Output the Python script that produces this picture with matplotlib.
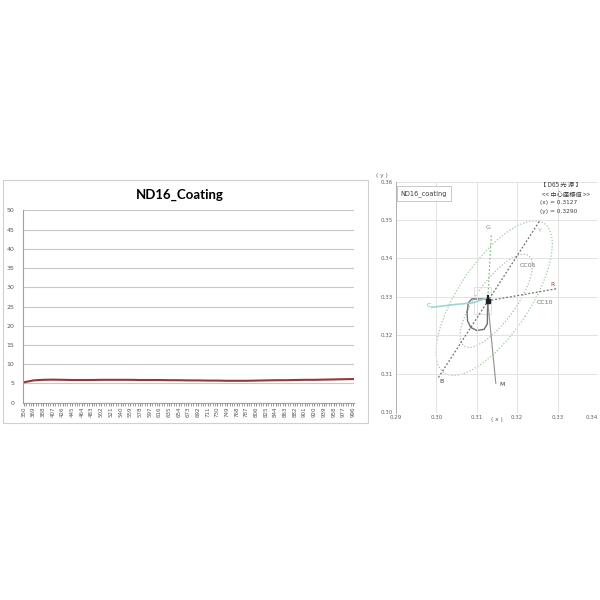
import numpy as np
import matplotlib
matplotlib.use("Agg")
import matplotlib.pyplot as plt
from matplotlib.patches import Ellipse, Rectangle, Polygon

plt.rcParams["font.family"] = ["DejaVu Sans"]

# ---- left chart: spectrum of the ND16 coating ----
wavelengths = list(range(350, 997, 19))  # nm, category labels
transmittance = [5.3, 5.8, 5.95, 6.0, 5.95, 5.9, 5.9, 5.9, 5.95, 5.95,
                 5.95, 5.95, 5.9, 5.9, 5.9, 5.85, 5.85, 5.8, 5.8, 5.75,
                 5.75, 5.7, 5.7, 5.7, 5.75, 5.8, 5.85, 5.85, 5.9, 5.95,
                 5.95, 6.0, 6.05, 6.1, 6.15]
y_ticks = list(range(0, 51, 5))

# ---- right chart: chromaticity diagram ----
d65 = (0.3127, 0.3290)
by_line_x = [0.3005, 0.3257]          # B end -> Y end, through D65
by_line_y = [0.3091, 0.3500]
r_end = (0.3300, 0.3322)
g_end = (0.3136, 0.3465)
m_end = (0.3147, 0.3076)
c_line_x = [0.2988, 0.3033, 0.3091, 0.3124]
c_line_y = [0.3273, 0.3279, 0.3285, 0.3297]
# tolerance ellipses: centre, semi axes, angle
cc10 = dict(xy=(0.3143, 0.3297), a=0.023, b=0.009, angle=58)
cc05 = dict(xy=(0.3148, 0.3290), a=0.0142, b=0.0050, angle=56)
# small measured loop near the centre
loop_x = [0.3127, 0.3088, 0.3079, 0.3076, 0.3077, 0.3085, 0.3100, 0.3118, 0.3126, 0.3127]
loop_y = [0.3295, 0.3295, 0.3285, 0.3260, 0.3238, 0.3221, 0.3213, 0.3216, 0.3230, 0.3295]
point_labels = ["G", "Y", "R", "CC05", "CC10", "C", "B", "M"]
label_x = [0.3128, 0.3256, 0.3288, 0.3227, 0.3268, 0.2980, 0.3013, 0.3163]
label_y = [0.3481, 0.3472, 0.3333, 0.3381, 0.3285, 0.3277, 0.3080, 0.3074]
label_colors = ["#6f8f6f", "#9fbf7f", "#a04040", "#707070", "#707070",
                "#6fb0b0", "#404040", "#404040"]
x_ticks = [0.29, 0.30, 0.31, 0.32, 0.33, 0.34]
y_ticks_r = [0.30, 0.31, 0.32, 0.33, 0.34, 0.35, 0.36]

fig = plt.figure(figsize=(6, 6), dpi=100)

# frame around the left chart
fig.patches.append(Rectangle((0.005, 0.295), 0.608, 0.405, transform=fig.transFigure,
                             fill=False, edgecolor="#d0d0d0", linewidth=0.8))

ax = fig.add_axes([0.038, 0.3288, 0.552, 0.3207])
idx = np.arange(len(wavelengths))
ax.plot(idx, transmittance, color="#953735", linewidth=1.5)
ax.set_xlim(-0.1, len(wavelengths) - 0.9)
ax.set_ylim(0, 50)
ax.set_yticks(y_ticks)
ax.set_xticks(idx)
ax.set_xticklabels([str(w) for w in wavelengths], rotation=90, fontsize=4, color="#595959")
ax.set_xticks(np.arange(0, len(wavelengths) - 1, 0.25), minor=True)
ax.tick_params(axis="y", labelsize=4.5, labelcolor="#595959", length=0, pad=6)
ax.tick_params(axis="x", which="both", length=2, color="#909090", pad=1)
ax.grid(axis="y", color="#c8c8c8", linewidth=0.8)
ax.set_axisbelow(True)
for s in ["top", "right"]:
    ax.spines[s].set_visible(False)
ax.spines["left"].set_color("#a0a0a0")
ax.spines["bottom"].set_color("#a0a0a0")
fig.text(0.30, 0.676, "ND16_Coating", ha="center", va="center",
         fontsize=9.5, fontweight="bold", family=["Lato", "DejaVu Sans"])

# right chart
bx = fig.add_axes([0.66, 0.3125, 0.3367, 0.385])
bx.set_xlim(0.29, 0.34)
bx.set_ylim(0.30, 0.36)
bx.set_xticks(x_ticks)
bx.set_yticks(y_ticks_r)
bx.set_xticklabels([f"{v:.2f}" for v in x_ticks])
bx.set_yticklabels([f"{v:.2f}" for v in y_ticks_r])
bx.tick_params(labelsize=4, labelcolor="#606060", length=0, pad=2)
bx.get_xticklabels()[-1].set_horizontalalignment("right")
bx.grid(color="#e2e2e2", linewidth=0.7)
for s in ["top", "right", "bottom"]:
    bx.spines[s].set_visible(False)
bx.spines["left"].set_color("#b0b0b0")
bx.spines["left"].set_linewidth(0.7)

for e, col in [(cc10, "#9ccc9c"), (cc05, "#a8c0a8")]:
    bx.add_patch(Ellipse(e["xy"], 2 * e["a"], 2 * e["b"], angle=e["angle"], fill=False,
                         edgecolor=col, linestyle=(0, (1, 1.5)), linewidth=0.9))
bx.add_patch(Rectangle((0.3093, 0.3255), 0.0042, 0.0070, fill=False,
                       edgecolor="#dddddd", linewidth=0.6))
bx.plot(by_line_x, by_line_y, color="#707070", linestyle=(0, (1.5, 1.5)), linewidth=0.9)
bx.plot([d65[0], r_end[0]], [d65[1], r_end[1]], color="#707070",
        linestyle=(0, (1.5, 1.5)), linewidth=0.9)
bx.plot([d65[0], g_end[0]], [d65[1], g_end[1]], color="#8fbf8f",
        linestyle=(0, (1.5, 1.5)), linewidth=0.9)
bx.plot([d65[0], m_end[0]], [d65[1], m_end[1]], color="#909090", linewidth=0.8)
bx.plot(c_line_x, c_line_y, color="#9fd4d4", linewidth=1.2)
bx.add_patch(Polygon(list(zip(loop_x, loop_y)), closed=True, fill=False,
                     edgecolor="#707070", linewidth=1.0))
bx.plot([d65[0]], [d65[1]], marker="s", markersize=2.5, color="#202020")
bx.plot([d65[0], d65[0]], [d65[1] - 0.0006, d65[1] + 0.0012], color="#202020", linewidth=1.6)

for t, x, y, c in zip(point_labels, label_x, label_y, label_colors):
    bx.text(x, y, t, fontsize=4.5, color=c, ha="center", va="center")

bx.text(0.2912, 0.3568, "ND16_coating", fontsize=4.8, color="#404040", va="center",
        bbox=dict(boxstyle="square,pad=0.6", facecolor="white", edgecolor="#c0c0c0",
                  linewidth=0.6))
cjk = ["Noto Sans CJK JP", "DejaVu Sans"]
bx.text(0.3257, 0.3590, "【 D65 光 源 】", fontsize=4.5, color="#404040",
        ha="left", va="center", family=cjk)
bx.text(0.3262, 0.3564, "<< 中心座標値 >>", fontsize=4.5, color="#404040",
        ha="left", va="center", family=cjk)
bx.text(0.3257, 0.3545, "(x) = 0.3127", fontsize=4.2, color="#404040", ha="left", va="center")
bx.text(0.3257, 0.3523, "(y) = 0.3290", fontsize=4.2, color="#404040", ha="left", va="center")
fig.text(0.636, 0.707, "( y )", fontsize=4.2, color="#606060", ha="center", va="center")
fig.text(0.828, 0.300, "( x )", fontsize=4.2, color="#606060", ha="center", va="center")

plt.savefig("out.png", dpi=100)
